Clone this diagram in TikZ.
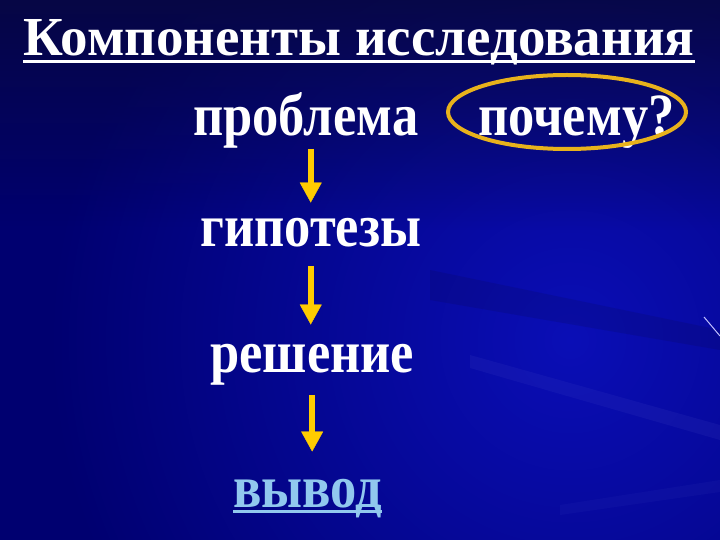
\documentclass[tikz,border=0pt]{standalone}
\usepackage{fontspec}
\setmainfont{Liberation Serif}
\newfontfamily\narrowserif[FakeStretch=0.875]{Liberation Serif}
\usetikzlibrary{arrows.meta,fadings}
\definecolor{bgdeep}{RGB}{0,0,112}
\definecolor{bgglow}{RGB}{10,14,182}
\definecolor{bgshade}{RGB}{8,8,58}
\definecolor{ringgold}{RGB}{232,178,28}
\definecolor{arrowgold}{RGB}{255,204,0}
\definecolor{linkblue}{RGB}{145,200,238}
\tikzfading[name=fadedown, top color=transparent!0, bottom color=transparent!100]
\begin{document}
\begin{tikzpicture}[x=1pt, y=-1pt,
    word/.style={text=white, font=\narrowserif\bfseries\fontsize{60}{66}\selectfont, inner sep=0pt, anchor=base west},
    ring/.style={draw=ringgold, line width=4pt},
    flow/.style={draw=arrowgold, line width=6pt, -{Triangle[width=22pt, length=20pt, line width=0.4pt, fill=arrowgold]}}]
  % background
  \fill[bgdeep] (0,0) rectangle (720,540);
  \begin{scope}
    \clip (0,0) rectangle (720,540);
    \shade[inner color=bgglow, outer color=bgdeep] (570,340) circle (520pt);
    \fill[bgshade, path fading=fadedown, opacity=0.8] (0,0) rectangle (720,230);
    \fill[bgshade, opacity=0.15] (430,270) -- (720,330) -- (720,350) -- (430,300) -- cycle;
    \fill[bgglow!70!white, opacity=0.12] (470,355) -- (720,425) -- (720,440) -- (470,368) -- cycle;
    \fill[bgglow!70!white, opacity=0.08] (560,505) -- (720,480) -- (720,492) -- (560,515) -- cycle;
    \draw[white!75!blue, line width=1pt] (704,317) -- (720,336);
  \end{scope}
  \useasboundingbox (0,0) rectangle (720,540);
  % texts
  \node[word, font=\bfseries\fontsize{55}{60}\selectfont, anchor=base] (title) at (359,56) {Компоненты исследования};
  \draw[white, line width=3pt] ([yshift=-6pt]title.base west) -- ([yshift=-6pt]title.base east);
  \node[word] (prob) at (193,136) {проблема};
  \node[word] (why) at (478,136) {почему?};
  \draw[ring] (567,112) ellipse [x radius=119pt, y radius=37pt];
  \node[word] (hyp) at (200,247) {гипотезы};
  \node[word] (sol) at (210,372) {решение};
  \node[word, text=linkblue] (concl) at (233,507) {вывод};
  \draw[linkblue, line width=3pt] ([yshift=-4pt]concl.base west) -- ([yshift=-4pt]concl.base east);
  % arrows
  \draw[flow, shorten >=16pt] (hyp.north |- prob.south) -- (hyp.north);
  \draw[flow, shorten <=18pt, shorten >=19pt] (hyp.south) -- (hyp.south |- sol.north);
  \draw[flow, shorten <=10pt, shorten >=27pt] (sol.south) -- (sol.south |- concl.north);
\end{tikzpicture}
\end{document}
